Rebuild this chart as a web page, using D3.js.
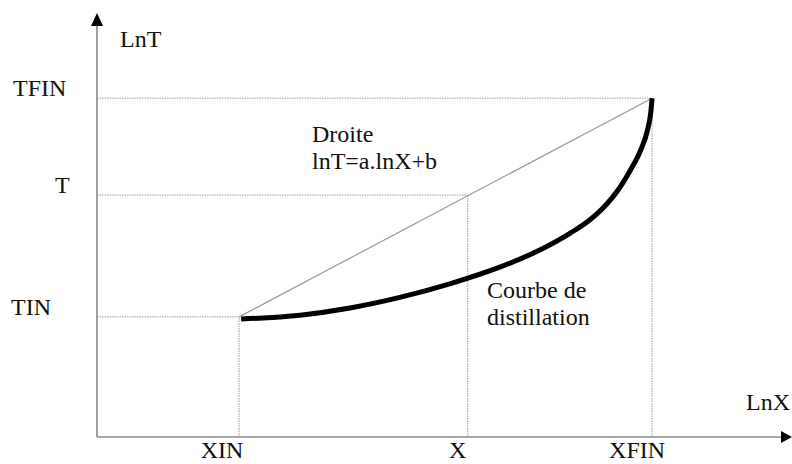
<!DOCTYPE html>
<html>
  <head>
  <title>Courbe de distillation</title>
  </head>
  <body>

  <svg id="svg" width="792" height="464"></svg>

  <script src="https://d3js.org/d3.v7.min.js"></script>
  <script>
        // positions in abstract ln units (0..100 on both axes)
        const xTickNames = ['XIN', 'X', 'XFIN']
        const xTickValues = [20.5, 53.5, 80.1]
        const yTickNames = ['TIN', 'T', 'TFIN']
        const yTickValues = [28.4, 57.2, 80.1]

        // distillation curve
        const curveLnX = [20.8, 29.3, 36.5, 43.7, 50.9, 58.2, 63.9, 68.3, 71.1, 73.3, 75.2, 76.9, 78.4, 79.4, 79.9, 80.1]
        const curveLnT = [27.9, 28.8, 30.5, 33.0, 36.2, 40.2, 44.2, 48.2, 51.3, 54.6, 58.4, 62.9, 67.6, 72.3, 76.6, 80.1]

        // straight line lnT = a.lnX + b between the two ends
        const lineLnX = [20.5, 80.1]
        const lineLnT = [28.4, 80.1]

        const svg = d3.select('#svg')

        const xscale = d3.scaleLinear().domain([0, 100]).range([97, 790])
        const yscale = d3.scaleLinear().domain([0, 100]).range([437, 14])

        const x0 = xscale(0), y0 = yscale(0)

        // dotted guide lines
        const guides = svg.append('g')
            .attr('stroke', '#999')
            .attr('stroke-width', 1)
            .attr('stroke-dasharray', '1.5,1')
            .attr('fill', 'none')
        xTickValues.forEach((v, i) => {
            guides.append('line')
                .attr('x1', xscale(v)).attr('x2', xscale(v))
                .attr('y1', y0).attr('y2', yscale(yTickValues[i]))
        })
        yTickValues.forEach((v, i) => {
            guides.append('line')
                .attr('x1', x0).attr('x2', xscale(xTickValues[i]))
                .attr('y1', yscale(v)).attr('y2', yscale(v))
        })

        // axes with arrow heads
        svg.append('line')
            .attr('x1', x0).attr('x2', 782)
            .attr('y1', y0).attr('y2', y0)
            .attr('stroke', '#888').attr('stroke-width', 1.6)
        svg.append('line')
            .attr('x1', x0).attr('x2', x0)
            .attr('y1', y0).attr('y2', 24)
            .attr('stroke', '#888').attr('stroke-width', 1.6)
        svg.append('path')
            .attr('d', `M792,${y0} L781,${y0 - 6} L781,${y0 + 6} Z`)
            .attr('fill', '#000')
        svg.append('path')
            .attr('d', `M${x0},13 L${x0 - 6},26 L${x0 + 6},26 Z`)
            .attr('fill', '#000')

        // straight line
        const linegen = d3.line()
            .x(d => xscale(d[0]))
            .y(d => yscale(d[1]))
        svg.append('path')
            .attr('d', linegen(lineLnX.map((v, i) => [v, lineLnT[i]])))
            .attr('stroke', '#999')
            .attr('stroke-width', 1.2)
            .attr('fill', 'none')

        // distillation curve
        const curvegen = d3.line()
            .x(d => xscale(d[0]))
            .y(d => yscale(d[1]))
            .curve(d3.curveMonotoneX)
        svg.append('path')
            .attr('d', curvegen(curveLnX.map((v, i) => [v, curveLnT[i]])))
            .attr('stroke', '#000')
            .attr('stroke-width', 5)
            .attr('fill', 'none')

        // labels
        const text = (x, y, s, anchor) => svg.append('text')
            .attr('x', x).attr('y', y)
            .attr('text-anchor', anchor || 'start')
            .style('font-family', "'Liberation Serif'")
            .style('font-size', '24px')
            .style('fill', '#111')
            .text(s)

        const xLabelShift = [-17, -10, -15]
        xTickValues.forEach((v, i) => text(xscale(v) + xLabelShift[i], 458, xTickNames[i], 'middle'))
        const yLabelStart = [11, 55, 13]
        yTickValues.forEach((v, i) => text(yLabelStart[i], yscale(v) - 2, yTickNames[i]))

        text(120, 47, 'LnT')
        text(790, 410, 'LnX', 'end')
        text(312, 142, 'Droite')
        text(312, 169, 'lnT=a.lnX+b')
        text(487, 298, 'Courbe de')
        text(487, 325, 'distillation')
  </script>
  <style>
    body, html {
      margin: 0;
      background: #fff;
    }
  </style>
  </body>
</html>
